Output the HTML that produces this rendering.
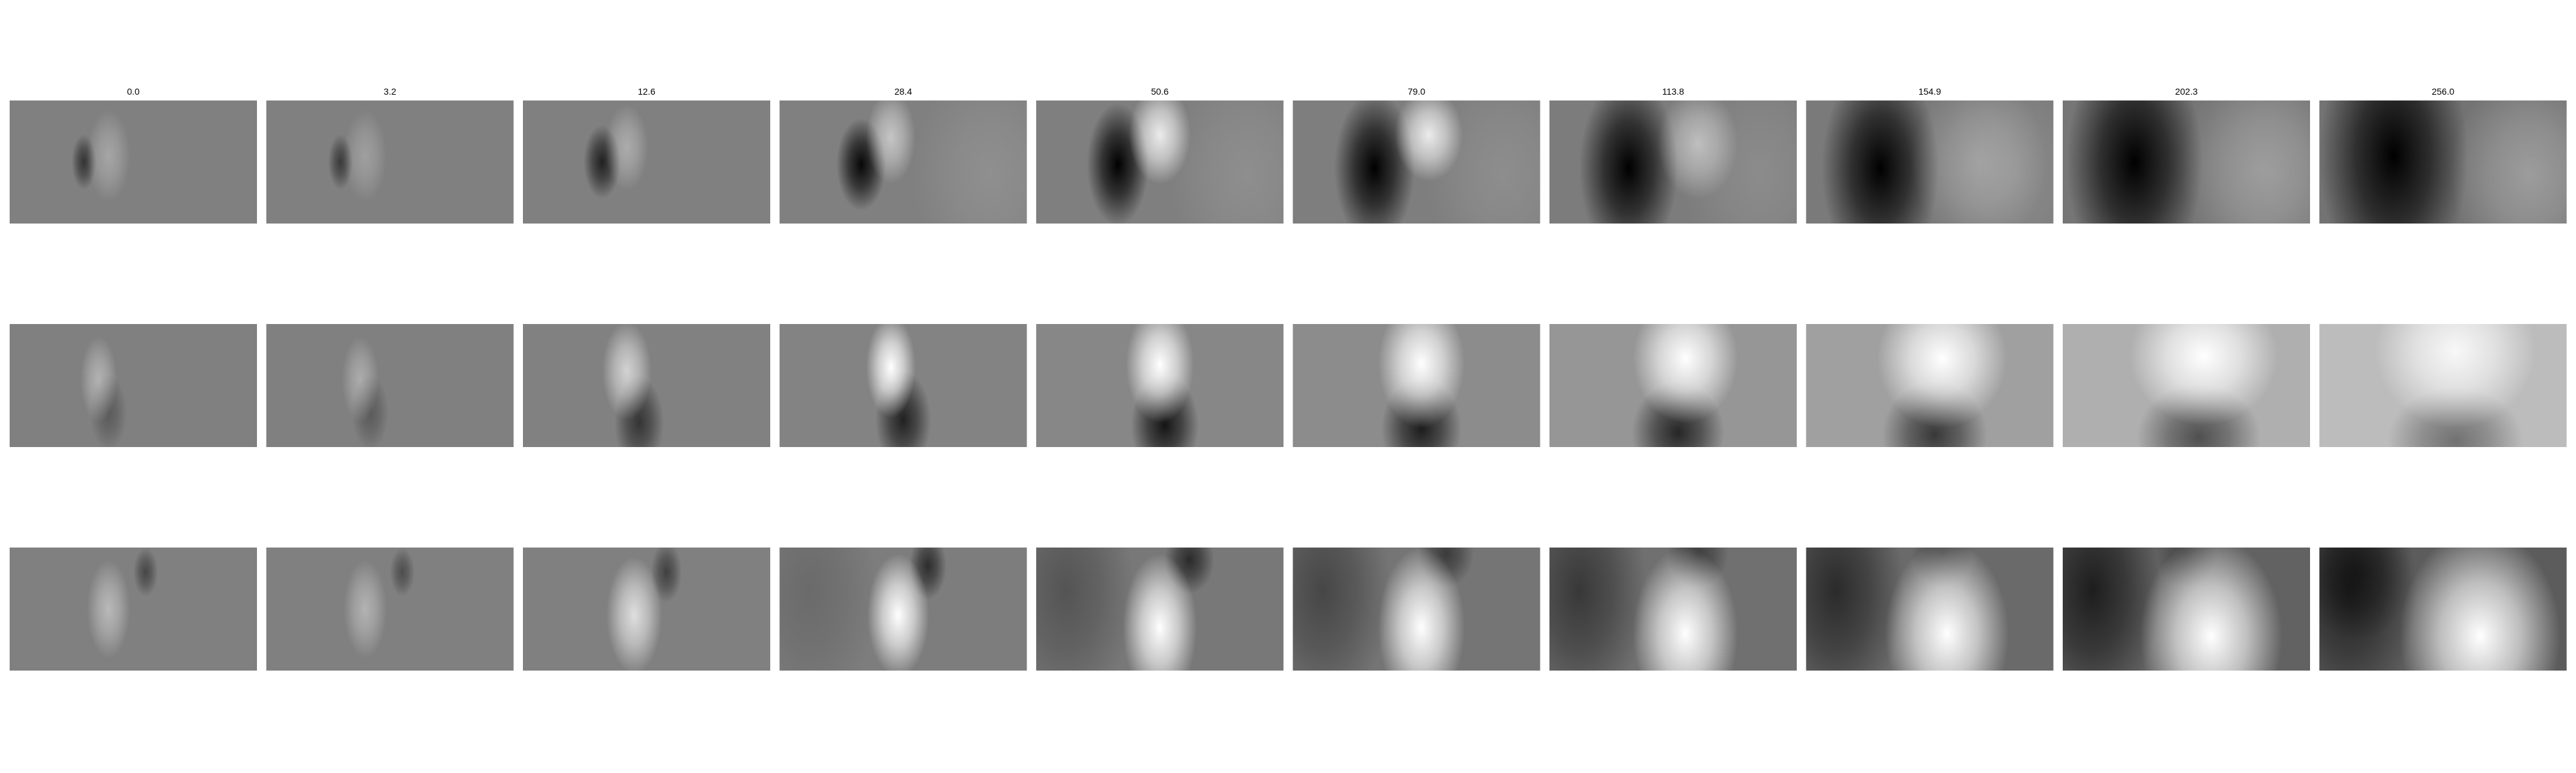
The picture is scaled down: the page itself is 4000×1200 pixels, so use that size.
<!DOCTYPE html>
<html><head><meta charset="utf-8"><style>
html,body{margin:0;padding:0;background:#fff;}
svg{display:block;}
</style></head><body>
<svg id="fig" width="4000" height="1200" xmlns="http://www.w3.org/2000/svg">
<defs id="defs"></defs>
</svg>
<script>
// column titles (time values)
const titles = ["0.0","3.2","12.6","28.4","50.6","79.0","113.8","154.9","202.3","256.0"];
// background gray per row per column
const bgRow1 = [128,128,128,128,127,126,124,122,118,115];
const bgRow2 = [128,128,129,131,135,140,150,160,175,188];
const bgRow3 = [128,128,128,125,120,117,112,106,98,92];
// Row 1 blob tracks
const r1DarkCx=[0.30,0.30,0.32,0.33,0.33,0.33,0.32,0.30,0.29,0.30];
const r1DarkCy=[0.50,0.50,0.50,0.52,0.52,0.55,0.55,0.55,0.50,0.45];
const r1DarkRx=[0.04,0.04,0.06,0.08,0.10,0.13,0.16,0.19,0.22,0.24];
const r1DarkRy=[0.18,0.18,0.24,0.30,0.40,0.50,0.60,0.70,0.80,0.90];
const r1DarkOp=[0.6,0.55,0.75,0.95,1,1,1,1,1,1];
const r1LightCx=[0.40,0.40,0.42,0.45,0.50,0.55,0.60,0.70,0.80,0.85];
const r1LightCy=[0.45,0.45,0.38,0.30,0.28,0.28,0.35,0.50,0.55,0.60];
const r1LightRx=[0.07,0.07,0.07,0.08,0.10,0.11,0.13,0.22,0.26,0.26];
const r1LightRy=[0.30,0.30,0.28,0.30,0.32,0.30,0.36,0.55,0.65,0.65];
const r1LightOp=[0.3,0.25,0.35,0.55,0.85,0.85,0.5,0.25,0.2,0.2];
// Row 2
const r2LightCx=[0.36,0.38,0.42,0.45,0.50,0.52,0.55,0.55,0.57,0.55];
const r2LightCy=[0.45,0.45,0.38,0.35,0.33,0.32,0.28,0.28,0.26,0.22];
const r2LightRx=[0.06,0.06,0.08,0.08,0.11,0.14,0.17,0.21,0.24,0.26];
const r2LightRy=[0.28,0.28,0.32,0.33,0.38,0.42,0.42,0.45,0.45,0.50];
const r2LightOp=[0.4,0.35,0.65,1,1,1,1,1,1,0.9];
const r2DarkCx=[0.40,0.42,0.47,0.50,0.52,0.52,0.52,0.52,0.55,0.55];
const r2DarkCy=[0.72,0.72,0.80,0.78,0.82,0.85,0.88,0.90,0.92,0.95];
const r2DarkRx=[0.06,0.06,0.08,0.09,0.11,0.13,0.15,0.17,0.20,0.22];
const r2DarkRy=[0.25,0.25,0.30,0.32,0.33,0.33,0.33,0.35,0.35,0.35];
const r2DarkOp=[0.3,0.3,0.6,0.75,0.85,0.8,0.75,0.65,0.55,0.4];
// Row 3
const r3LightCx=[0.40,0.40,0.45,0.48,0.50,0.52,0.55,0.57,0.60,0.65];
const r3LightCy=[0.50,0.50,0.55,0.55,0.65,0.65,0.70,0.70,0.72,0.72];
const r3LightRx=[0.07,0.07,0.09,0.10,0.12,0.14,0.17,0.20,0.23,0.26];
const r3LightRy=[0.32,0.32,0.38,0.40,0.48,0.52,0.56,0.60,0.65,0.70];
const r3LightOp=[0.45,0.4,0.75,1,1,1,1,1,1,1];
const r3DarkCx=[0.55,0.55,0.58,0.60,0.62,0.62,0.60,0.55,0.50,0.15];
const r3DarkCy=[0.20,0.20,0.20,0.15,0.10,0.05,0.05,0.05,0.05,0.20];
const r3DarkRx=[0.04,0.04,0.05,0.06,0.08,0.09,0.10,0.10,0.10,0.18];
const r3DarkRy=[0.16,0.16,0.20,0.22,0.22,0.22,0.22,0.22,0.22,0.45];
const r3DarkOp=[0.45,0.4,0.5,0.65,0.65,0.5,0.45,0.35,0.3,0.5];
const r3EdgeOp=[0,0,0,0.15,0.3,0.4,0.5,0.6,0.7,0.6];

const rowsTop=[156,503,850];
const colLeft0=15, colStep=398.5, pw=384, ph=191;
const NS="http://www.w3.org/2000/svg";
const svg=document.getElementById('fig');
const defs=document.getElementById('defs');
let gid=0;
function xPos(c){return colLeft0+c*colStep;}
function gray(v){v=Math.round(v);return 'rgb('+v+','+v+','+v+')';}
function mkGrad(tone,op){
  const g=document.createElementNS(NS,'radialGradient');
  const id='g'+(gid++);g.setAttribute('id',id);
  [[0,op],[0.5,op*0.6],[1,0]].forEach(s=>{
    const st=document.createElementNS(NS,'stop');
    st.setAttribute('offset',s[0]);st.setAttribute('stop-color',tone);st.setAttribute('stop-opacity',s[1]);
    g.appendChild(st);});
  defs.appendChild(g);return id;
}
function blob(grp,x0,y0,cx,cy,rx,ry,tone,op,name){
  if(op<=0)return;
  const e=document.createElementNS(NS,'ellipse');
  e.setAttribute('cx',x0+cx*pw);e.setAttribute('cy',y0+cy*ph);
  e.setAttribute('rx',rx*pw*1.25);e.setAttribute('ry',ry*ph*1.25);
  e.setAttribute('fill','url(#'+mkGrad(tone,op)+')');
  
  
  grp.appendChild(e);
}
const bgs=[bgRow1,bgRow2,bgRow3];
for(let r=0;r<3;r++){
  for(let c=0;c<10;c++){
    const x0=xPos(c),y0=rowsTop[r];
    const cp=document.createElementNS(NS,'clipPath');cp.setAttribute('id','cp'+r+'_'+c);
    const cr=document.createElementNS(NS,'rect');cr.setAttribute('x',x0);cr.setAttribute('y',y0);cr.setAttribute('width',pw);cr.setAttribute('height',ph);
    cp.appendChild(cr);defs.appendChild(cp);
    const g=document.createElementNS(NS,'g');
    g.setAttribute('clip-path','url(#cp'+r+'_'+c+')');
    
    
    const bg=document.createElementNS(NS,'rect');
    bg.setAttribute('x',x0);bg.setAttribute('y',y0);bg.setAttribute('width',pw);bg.setAttribute('height',ph);
    bg.setAttribute('fill',gray(bgs[r][c]));
    
    
    g.appendChild(bg);
    if(r===0){
      blob(g,x0,y0,0.85,0.6,0.25,0.7,'#fff',c>=3?0.12:0,'light-right');
      blob(g,x0,y0,r1DarkCx[c],r1DarkCy[c],r1DarkRx[c],r1DarkRy[c],'#000',r1DarkOp[c],'dark-blob');
      blob(g,x0,y0,r1LightCx[c],r1LightCy[c],r1LightRx[c],r1LightRy[c],'#fff',r1LightOp[c],'light-blob');
    }else if(r===1){
      blob(g,x0,y0,r2DarkCx[c],r2DarkCy[c],r2DarkRx[c],r2DarkRy[c],'#000',r2DarkOp[c],'dark-blob');
      blob(g,x0,y0,r2LightCx[c],r2LightCy[c],r2LightRx[c],r2LightRy[c],'#fff',r2LightOp[c],'light-blob');
    }else{
      blob(g,x0,y0,0.12,0.35,0.22,0.8,'#000',r3EdgeOp[c],'dark-left');
      blob(g,x0,y0,r3DarkCx[c],r3DarkCy[c],r3DarkRx[c],r3DarkRy[c],'#000',r3DarkOp[c],'dark-blob');
      blob(g,x0,y0,r3LightCx[c],r3LightCy[c],r3LightRx[c],r3LightRy[c],'#fff',r3LightOp[c],'light-blob');
    }
    svg.appendChild(g);
  }
}
for(let c=0;c<10;c++){
  const t=document.createElementNS(NS,'text');
  t.setAttribute('x',xPos(c)+pw/2);t.setAttribute('y',147);
  t.setAttribute('text-anchor','middle');t.setAttribute('font-size','14');
  t.setAttribute('font-family','Liberation Sans, DejaVu Sans, sans-serif');
  t.textContent=titles[c];
  
  
  svg.appendChild(t);
}
</script>
</body></html>
